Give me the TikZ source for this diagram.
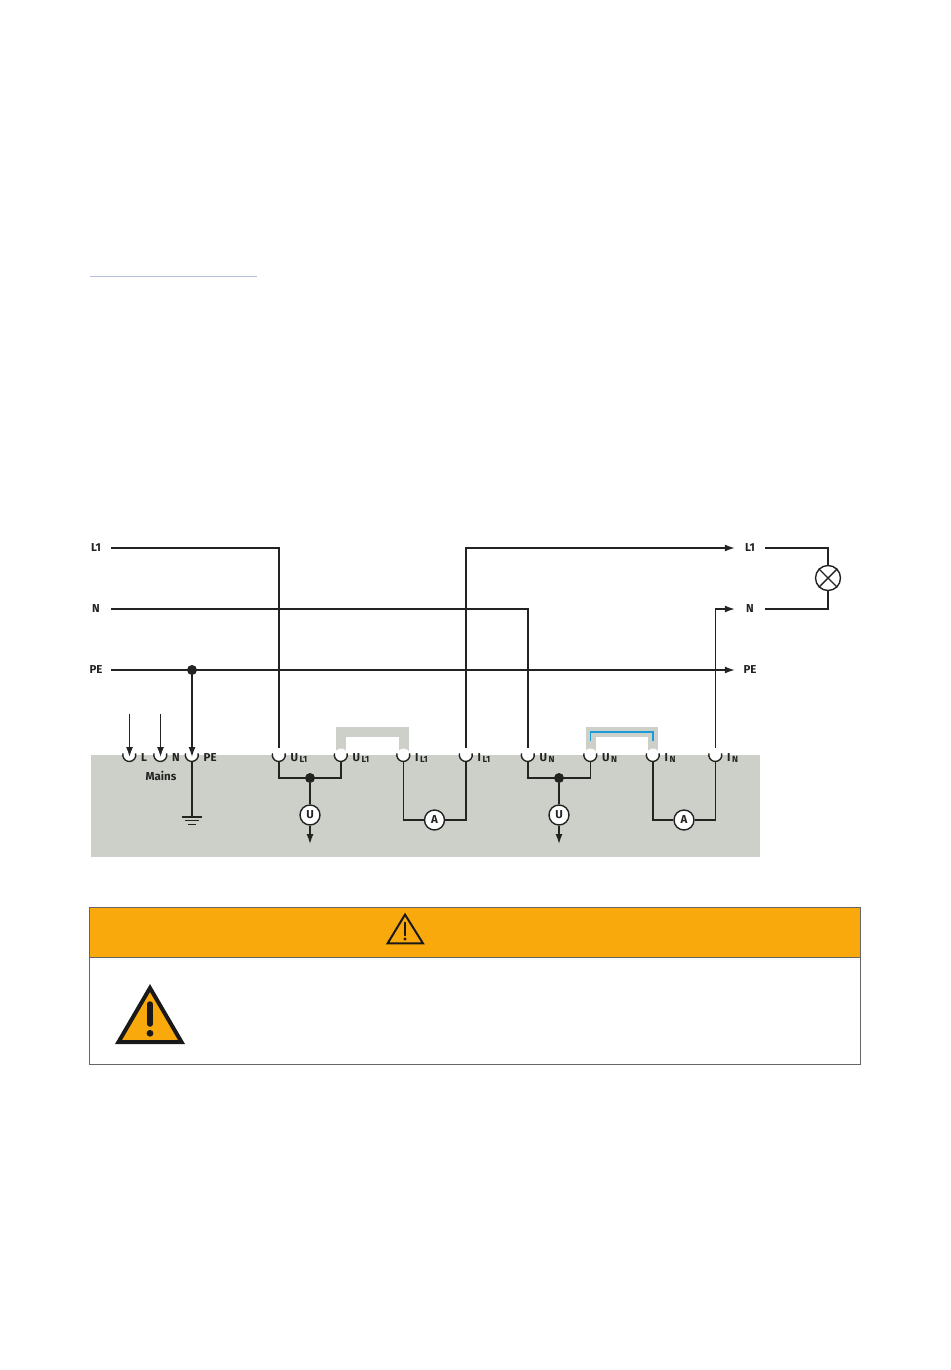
\documentclass[tikz,border=0pt]{standalone}
\usepackage{fontspec}
\setmainfont{Fira Sans}
\usetikzlibrary{arrows.meta,backgrounds,positioning}
\definecolor{bandgrey}{HTML}{CDCFC9}
\definecolor{wirecol}{HTML}{222422}
\definecolor{warnorange}{HTML}{F9A90C}
\definecolor{jumperblue}{HTML}{1E9BD7}
\definecolor{rulecol}{HTML}{B8BCDD}
\definecolor{framecol}{HTML}{666666}
\newcommand{\lowtext}[1]{\raisebox{-1.8pt}{\fontsize{9}{10}\selectfont\,#1}}
\begin{document}
\begin{tikzpicture}[x=1pt, y=-1pt,
		wire/.style={draw=wirecol, line width=1.4pt},
		arrowwire/.style={wire, -{Latex[length=10pt, width=7pt]}},
		linelabel/.style={minimum width=30pt, inner sep=0pt, font=\bfseries\fontsize{11.5}{12}\selectfont, text=wirecol},
		termlabel/.style={anchor=base west, inner sep=0pt, font=\bfseries\fontsize{11.5}{12}\selectfont, text=wirecol},
		terminal/.style={circle, fill=white, minimum size=13pt, inner sep=0pt},
		junction/.style={circle, fill=wirecol, minimum size=10pt, inner sep=0pt},
		meter/.style={circle, draw=wirecol, fill=white, line width=1.4pt, minimum size=20pt, inner sep=0pt, font=\bfseries\fontsize{11.5}{12}\selectfont, text=wirecol},
		bridge/.style={draw=bandgrey, line width=10pt}]
	\useasboundingbox (0,0) rectangle (950,1370);

	\draw[rulecol, line width=1pt] (90,276.5) -- (257,276.5);

	% terminal strip
	\foreach \name/\xpos/\txt in {L/129.5/L, N/160.5/N, PE/192/PE,
			Ua/279/{U\lowtext{L1}}, Ub/341/{U\lowtext{L1}}, Ia/403.5/{I\lowtext{L1}}, Ib/466/{I\lowtext{L1}},
			Uc/528/{U\lowtext{N}}, Ud/590.5/{U\lowtext{N}}, Ic/653/{I\lowtext{N}}, Id/715.5/{I\lowtext{N}}} {
		\node[terminal] (t\name) at (\xpos,755) {};
		\draw[wire] (t\name.165) arc[start angle=165, end angle=375, radius=6.5pt];
		\node[termlabel] (lab\name) at (\xpos+11.5,761) {\txt};
	}
	\node[termlabel, anchor=center] (mains) at (161,776) {Mains};

	\begin{scope}[on background layer]
		\fill[bandgrey] (91,755) rectangle (760,857);
		\draw[bridge] (tUb.center) -- ++(0,-23.5) -| (tIa.center);
		\draw[bridge] (tUd.center) -- ++(0,-23.5) -| (tIc.center);
		\draw[jumperblue, line width=1.3pt] ([yshift=14pt]tUd.center) -- ++(0,-9) -| ([yshift=14pt]tIc.center);
	\end{scope}

	% line labels
	\node[linelabel] (inL) at (96,548) {L1};
	\node[linelabel] (inN) at (96,609) {N};
	\node[linelabel] (inPE) at (96,670) {PE};
	\node[linelabel] (outL) at (750,548) {L1};
	\node[linelabel] (outN) at (750,609) {N};
	\node[linelabel] (outPE) at (750,670) {PE};

	\node[circle, draw=wirecol, fill=white, line width=1.4pt, minimum size=25pt, inner sep=0pt] (lamp) at (828,578) {};
	\draw[wire] (lamp.45) -- (lamp.225) (lamp.135) -- (lamp.315);
	\draw[wire] (outL.east) -| (lamp.north);
	\draw[wire] (outN.east) -| (lamp.south);

	% supply wires
	\node[junction] (dotPE) at (192,670) {};
	\draw[wire] (inL.east) -| (tUa.north);
	\draw[wire] (inN.east) -| (tUc.north);
	\draw[arrowwire] (inPE.east) -- (outPE.west);
	\draw[arrowwire, shorten >=-2pt] (dotPE.center) -- (tPE.center);
	\draw[arrowwire] (tIb.north) |- (outL.west);
	\draw[arrowwire] (tId.north) |- (outN.west);

	\coordinate (feedL) at (129.5,714);
	\coordinate (feedN) at (160.5,714);
	\draw[arrowwire, shorten >=-2pt] (feedL) -- (tL.center);
	\draw[arrowwire, shorten >=-2pt] (feedN) -- (tN.center);

	% earth
	\coordinate (earth) at (192,817);
	\draw[wire] (tPE.south) -- (earth);
	\draw[wire] ([xshift=-10pt]earth) -- ([xshift=10pt]earth);
	\draw[wire] ([xshift=-7pt,yshift=-3.6pt]earth) -- ([xshift=7pt,yshift=-3.6pt]earth);
	\draw[wire] ([xshift=-3.6pt,yshift=-7.2pt]earth) -- ([xshift=3.6pt,yshift=-7.2pt]earth);

	% voltage paths
	\node[junction] (dotUa) at (310,778) {};
	\node[meter] (meterUa) at (310,815) {U};
	\coordinate (endUa) at (310,844);
	\draw[wire] (tUa.south) |- (dotUa.center) -| (tUb.south);
	\draw[wire] (dotUa) -- (meterUa);
	\draw[arrowwire] (meterUa) -- (endUa);

	\node[junction] (dotUc) at (559,778) {};
	\node[meter] (meterUc) at (559,815) {U};
	\coordinate (endUc) at (559,844);
	\draw[wire] (tUc.south) |- (dotUc.center) -| (tUd.south);
	\draw[wire] (dotUc) -- (meterUc);
	\draw[arrowwire] (meterUc) -- (endUc);

	% current paths
	\node[meter] (meterIa) at (434.5,820) {A};
	\draw[wire] (tIa.south) |- (meterIa) -| (tIb.south);
	\node[meter] (meterIc) at (684,820) {A};
	\draw[wire] (tIc.south) |- (meterIc) -| (tId.south);

	% warning box
	\draw[framecol, line width=1pt, fill=white] (89.5,907.5) rectangle (860,1064);
	\draw[framecol, line width=1pt, fill=warnorange] (89.5,907.5) rectangle (860,957.5);

	\draw[black!90, line width=2pt, miter limit=10] (387.6,943.4) -- (405,914.6) -- (423,943.4) -- cycle;
	\draw[black!90, line width=1.8pt, line cap=round] (405,922.5) -- (405,935.5);
	\fill[black!90] (405,939) circle[radius=1.6pt];

	\draw[black!90, fill=warnorange, line width=4pt, miter limit=10] (118.5,1042) -- (150,988) -- (181.5,1042) -- cycle;
	\draw[black!90, line width=5.5pt, line cap=round] (150,1004) -- (150,1024);
	\fill[black!90] (150,1033.3) circle[radius=3.4pt];
\end{tikzpicture}
\end{document}
